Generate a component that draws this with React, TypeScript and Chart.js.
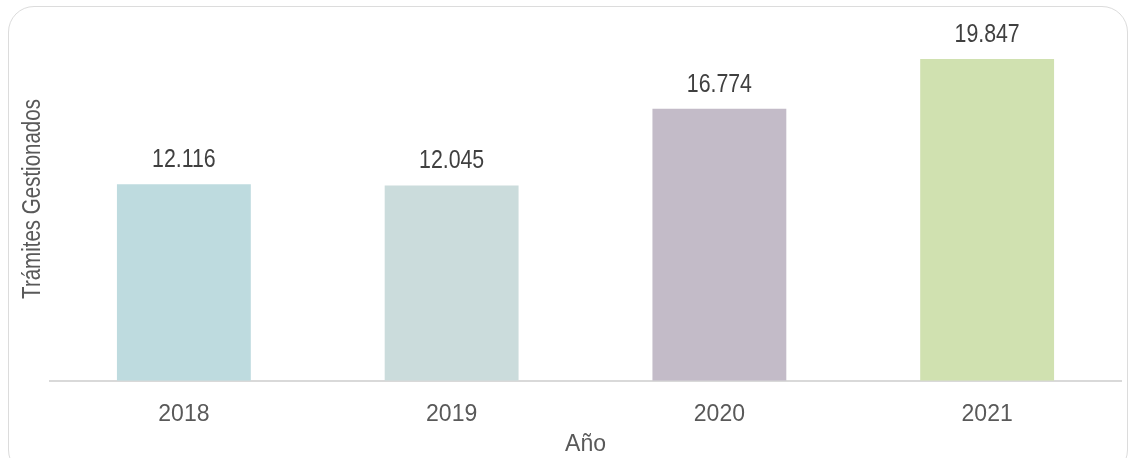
import React, { useEffect, useRef } from "react";
import { Chart, registerables } from "chart.js";

Chart.register(...registerables);

const categories = ["2018", "2019", "2020", "2021"];
const values = [12116, 12045, 16774, 19847];
const valueLabels = ["12.116", "12.045", "16.774", "19.847"];
const barColors = ["#BEDBDF", "#CBDCDC", "#C3BBC8", "#D0E1B0"];
const yTitle = "Trámites Gestionados";
const xTitle = "Año";

const FONT = "'Liberation Sans Narrow', 'Arial Narrow', 'Liberation Sans', sans-serif";
const CONDENSE = 0.82;

const labelPlugin = {
  id: "valueLabels",
  afterDatasetsDraw(chart: any) {
    const ctx = chart.ctx;
    const meta = chart.getDatasetMeta(0);
    ctx.save();
    ctx.font = `26px ${FONT}`;
    ctx.fillStyle = "#404040";
    ctx.textAlign = "center";
    ctx.textBaseline = "alphabetic";
    meta.data.forEach((bar: any, i: number) => {
      ctx.save();
      ctx.translate(bar.x, bar.y - 17);
      ctx.scale(CONDENSE, 1);
      ctx.fillText(valueLabels[i], 0, 0);
      ctx.restore();
    });
    ctx.restore();
    // y axis title
    ctx.save();
    ctx.translate(40, 199);
    ctx.rotate(-Math.PI / 2);
    ctx.scale(CONDENSE, 1);
    ctx.textAlign = "center";
    ctx.textBaseline = "alphabetic";
    ctx.fillStyle = "#595959";
    ctx.font = `25px ${FONT}`;
    ctx.fillText(yTitle, 0, 0);
    ctx.restore();
  },
};

export default function App() {
  const ref = useRef<HTMLCanvasElement>(null);
  useEffect(() => {
    const chart = new Chart(ref.current!, {
      type: "bar",
      data: {
        labels: categories,
        datasets: [
          {
            data: values,
            backgroundColor: barColors,
            categoryPercentage: 1,
            barPercentage: 0.5,
          },
        ],
      },
      options: {
        animation: false,
        responsive: false,
        layout: { padding: { left: 50, right: 11, top: 24, bottom: 0 } },
        plugins: { legend: { display: false }, tooltip: { enabled: false } },
        scales: {
          y: { display: false, min: 0, max: 22000 },
          x: {
            grid: { display: false, drawTicks: false },
            border: { display: true, color: "#D9D9D9", width: 2 },
            ticks: { color: "#595959", font: { family: FONT, size: 23 }, padding: 20 },
            title: {
              display: true,
              text: xTitle,
              color: "#595959",
              font: { family: FONT, size: 23 },
              padding: { top: -18, bottom: 0 },
            },
          },
        },
      },
      plugins: [labelPlugin],
    });
    return () => chart.destroy();
  }, []);
  return (
    <div style={{ position: "fixed", left: 0, top: 0, width: 1132, height: 458, background: "#fff", overflow: "hidden" }}>
      <div
        style={{
          position: "absolute",
          left: 8,
          top: 6,
          width: 1120,
          height: 470,
          border: "1.5px solid #DCDCDC",
          borderRadius: 26,
          boxSizing: "border-box",
        }}
      />
      <canvas ref={ref} width={1132} height={458} style={{ position: "absolute", left: 0, top: 0 }} />
    </div>
  );
}
